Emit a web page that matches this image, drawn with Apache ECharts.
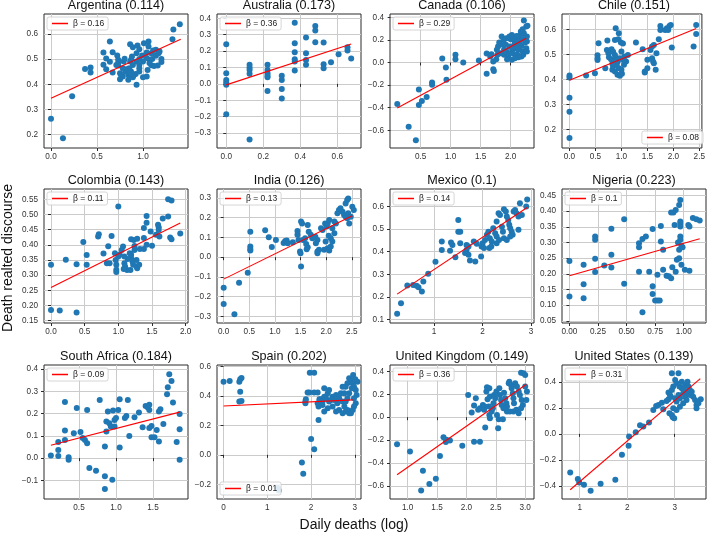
<!DOCTYPE html>
<html>
<head>
<meta charset="utf-8">
<script src="https://cdn.jsdelivr.net/npm/echarts@6.0.0/dist/echarts.min.js"></script>
<style>html,body{margin:0;padding:0;background:#fff}#chart{width:708px;height:534px}</style>
</head>
<body>
<div id="chart"></div>
<script>
// ---------------- DATA ----------------
const countries = ['Argentina','Australia','Canada','Chile','Colombia','India','Mexico','Nigeria','South Africa','Spain','United Kingdom','United States'];
const scores = ['0.114','0.173','0.106','0.151','0.143','0.126','0.1','0.223','0.184','0.202','0.149','0.139'];
const betas = ['0.16','0.36','0.29','0.08','0.11','0.13','0.14','0.1','0.09','0.01','0.36','0.31'];

const argentina = [[0,0.263],[0.13,0.186],[0.23,0.352],[0.37,0.461],[0.43,0.467],[0.43,0.447],[0.57,0.526],[0.57,0.478],[0.60,0.502],[0.60,0.460],[0.64,0.489],[0.64,0.570],[0.67,0.527],[0.67,0.447],[0.72,0.514],[0.73,0.497],[0.73,0.484],[0.73,0.475],[0.75,0.444],[0.75,0.420],[0.79,0.490],[0.80,0.501],[0.86,0.559],[0.89,0.547],[0.93,0.523],[0.94,0.554],[0.96,0.539],[0.99,0.514],[1.01,0.563],[1.04,0.526],[1.06,0.570],[1.06,0.550],[1.09,0.523],[1.11,0.534],[1.14,0.513],[1.17,0.523],[1.20,0.500],[1.20,0.488],[1.16,0.475],[1.09,0.476],[1.07,0.497],[1.05,0.457],[1.04,0.431],[1.00,0.428],[0.96,0.464],[0.93,0.490],[0.92,0.441],[0.90,0.437],[0.87,0.451],[0.85,0.464],[0.84,0.438],[0.82,0.460],[0.81,0.451],[0.78,0.464],[0.78,0.431],[0.76,0.438],[0.93,0.398],[0.96,0.477],[0.96,0.451],[0.89,0.477],[0.87,0.497],[0.86,0.490],[0.88,0.510],[0.96,0.500],[1.00,0.490],[1.04,0.504],[1.07,0.484],[1.10,0.500],[1.14,0.537],[1.18,0.530],[1.12,0.473],[1.32,0.579],[1.33,0.617],[1.40,0.638],[0.84,0.418],[0.89,0.428],[0.86,0.444],[0.71,0.477]];
const australia = [[0,0.241],[0,0.065],[0,0.024],[0,0.008],[0,-0.006],[0,-0.185],[0.126,0.116],[0.126,0.099],[0.126,0.085],[0.126,0.061],[0.126,-0.339],[0.223,0.116],[0.223,0.085],[0.223,0.065],[0.223,0.049],[0.223,0.041],[0.223,-0.043],[0.30,0.049],[0.30,0.024],[0.30,-0.032],[0.30,-0.089],[0.37,0.373],[0.37,0.247],[0.37,0.193],[0.37,0.150],[0.37,0.136],[0.37,0.081],[0.431,0.282],[0.431,0.187],[0.431,0.146],[0.431,0.116],[0.481,0.353],[0.481,0.325],[0.481,0.254],[0.526,0.252],[0.526,0.12],[0.526,0.095],[0.566,0.132],[0.607,0.181],[0.655,0.223],[0.655,0.203],[0.675,0.154]];
const canada = [[0.11,-0.368],[0.30,-0.568],[0.42,-0.688],[0.47,-0.238],[0.47,-0.376],[0.52,-0.341],[0.60,-0.306],[0.69,-0.176],[0.69,-0.197],[0.86,0.035],[0.92,-0.044],[0.93,-0.153],[1.08,0.068],[1.08,0.029],[1.21,0.0],[1.47,0.018],[1.60,0.079],[1.60,-0.1],[1.71,-0.059],[1.72,-0.074],[1.68,0.074],[1.66,0.053],[1.71,0.009],[1.77,0.112],[1.79,0.141],[1.85,0.229],[1.88,0.194],[1.89,0.112],[1.92,0.156],[1.93,0.097],[1.96,0.053],[1.98,0.141],[2.00,0.206],[2.02,0.244],[2.03,0.118],[2.04,0.082],[2.06,0.156],[2.07,0.185],[2.09,0.215],[2.10,0.126],[2.11,0.068],[2.13,0.112],[2.14,0.171],[2.16,0.244],[2.17,0.206],[2.18,0.147],[2.20,0.097],[2.21,0.068],[2.22,0.259],[2.22,0.371],[2.26,0.318],[2.27,0.229],[2.24,0.176],[2.26,0.126],[2.18,0.053],[2.13,0.047],[2.07,0.038],[2.02,0.024],[1.94,0.029],[1.89,0.068],[1.83,0.082],[1.78,0.068],[1.76,0.029],[1.81,0.176],[1.87,0.156],[1.93,0.215],[1.98,0.229],[2.04,0.224],[2.10,0.235],[2.17,0.274],[2.20,0.294],[2.24,0.215],[2.27,0.185],[2.02,0.135],[1.98,0.082],[2.13,0.185],[2.27,0.097],[2.28,0.324]];
const chile = [[0,0.415],[0,0.407],[0,0.326],[0,0.270],[0,0.165],[0.32,0.415],[0.49,0.424],[0.54,0.496],[0.54,0.484],[0.54,0.477],[0.56,0.544],[0.69,0.444],[0.73,0.555],[0.72,0.517],[0.75,0.504],[0.76,0.488],[0.81,0.52],[0.84,0.51],[0.875,0.497],[0.91,0.484],[0.93,0.471],[0.89,0.604],[0.95,0.584],[0.875,0.557],[0.94,0.560],[0.99,0.547],[1.03,0.543],[0.825,0.438],[0.875,0.431],[0.925,0.418],[0.97,0.414],[1.01,0.422],[0.84,0.451],[0.91,0.458],[0.95,0.444],[1.0,0.438],[1.06,0.491],[1.09,0.471],[1.05,0.458],[1.125,0.497],[1.0,0.511],[1.03,0.478],[0.97,0.484],[0.80,0.48],[0.825,0.462],[0.86,0.478],[1.28,0.547],[1.41,0.52],[1.45,0.431],[1.45,0.427],[1.5,0.478],[1.5,0.444],[1.56,0.517],[1.59,0.531],[1.625,0.537],[1.59,0.484],[1.61,0.471],[1.625,0.464],[1.66,0.438],[1.675,0.504],[1.72,0.56],[1.75,0.613],[1.75,0.597],[1.84,0.597],[1.875,0.604],[1.925,0.613],[1.95,0.617],[1.9,0.597],[1.97,0.527],[2.39,0.531],[2.44,0.617],[2.44,0.581]];
const colombia = [[0,0.334],[0,0.185],[0.13,0.183],[0.22,0.351],[0.38,0.336],[0.38,0.177],[0.48,0.409],[0.53,0.366],[0.53,0.334],[0.70,0.427],[0.71,0.435],[0.78,0.371],[0.85,0.395],[0.83,0.339],[0.87,0.339],[0.90,0.429],[0.95,0.372],[0.96,0.35],[0.97,0.334],[0.97,0.318],[0.97,0.31],[1.00,0.526],[1.0,0.361],[1.02,0.367],[1.05,0.383],[1.07,0.394],[1.09,0.339],[1.10,0.328],[1.13,0.317],[1.08,0.32],[1.18,0.317],[1.19,0.367],[1.19,0.356],[1.21,0.345],[1.22,0.334],[1.19,0.418],[1.23,0.416],[1.28,0.42],[1.24,0.383],[1.24,0.396],[1.27,0.35],[1.27,0.328],[1.28,0.323],[1.31,0.334],[1.32,0.386],[1.38,0.455],[1.38,0.422],[1.38,0.386],[1.42,0.473],[1.42,0.495],[1.42,0.40],[1.48,0.444],[1.50,0.397],[1.56,0.433],[1.59,0.466],[1.60,0.458],[1.60,0.449],[1.61,0.427],[1.66,0.487],[1.74,0.493],[1.74,0.55],[1.79,0.546],[1.77,0.424],[1.79,0.418],[1.92,0.437],[1.14,0.353],[1.17,0.372],[1.09,0.361]];
const india = [[0,-0.155],[0,-0.237],[0.21,-0.289],[0.30,-0.129],[0.47,-0.079],[0.52,0.129],[0.52,0.054],[0.52,0.042],[0.52,0.034],[0.81,0.136],[0.88,0.101],[0.94,0.052],[1.02,0.087],[1.17,0.072],[1.20,0.082],[1.23,0.084],[1.25,0.071],[1.35,0.076],[1.44,0.133],[1.44,0.113],[1.46,0.087],[1.51,0.18],[1.53,0.171],[1.49,0.029],[1.50,0.02],[1.51,-0.047],[1.55,0.087],[1.59,0.096],[1.61,0.067],[1.64,0.05],[1.62,0.04],[1.64,0.163],[1.66,0.129],[1.70,0.113],[1.73,0.096],[1.79,0.104],[1.83,0.087],[1.80,0.071],[1.83,0.029],[1.86,0.037],[1.83,0.02],[1.90,0.146],[1.93,0.138],[1.98,0.171],[2.01,0.155],[2.03,0.171],[2.06,0.188],[1.96,0.037],[1.99,0.079],[2.03,0.045],[2.06,0.034],[2.09,0.054],[2.05,0.108],[2.09,0.096],[2.12,0.079],[2.16,0.121],[2.12,0.146],[2.16,0.18],[2.19,0.171],[2.22,0.222],[2.25,0.239],[2.28,0.247],[2.32,0.23],[2.35,0.213],[2.38,0.205],[2.41,0.197],[2.43,0.222],[2.38,0.272],[2.41,0.289],[2.43,0.297],[2.45,0.171],[2.48,0.205],[2.51,0.255],[2.54,0.239]];
const mexico = [[0.24,0.125],[0.32,0.172],[0.45,0.25],[0.57,0.253],[0.64,0.249],[0.68,0.243],[0.75,0.224],[0.78,0.268],[0.88,0.302],[1.03,0.355],[1.16,0.445],[1.16,0.408],[1.33,0.404],[1.35,0.441],[1.38,0.43],[1.44,0.376],[1.50,0.541],[1.50,0.489],[1.54,0.489],[1.54,0.438],[1.64,0.394],[1.67,0.408],[1.71,0.386],[1.74,0.361],[1.67,0.43],[1.71,0.423],[1.85,0.357],[1.82,0.445],[1.88,0.435],[1.97,0.379],[1.98,0.423],[2.0,0.438],[2.03,0.416],[2.05,0.452],[2.09,0.475],[2.12,0.489],[2.15,0.46],[2.19,0.445],[2.14,0.416],[2.18,0.423],[2.22,0.504],[2.26,0.482],[2.29,0.467],[2.29,0.534],[2.33,0.571],[2.36,0.563],[2.40,0.511],[2.42,0.489],[2.44,0.46],[2.44,0.588],[2.48,0.578],[2.50,0.556],[2.53,0.541],[2.55,0.519],[2.57,0.504],[2.60,0.489],[2.62,0.475],[2.64,0.578],[2.67,0.585],[2.70,0.571],[2.74,0.556],[2.57,0.467],[2.50,0.452],[2.29,0.438],[2.34,0.452],[2.74,0.497],[2.77,0.615],[2.90,0.6],[2.92,0.632],[2.81,0.563]];
const nigeria = [[0,0.241],[0,0.128],[0.124,0.229],[0.124,0.167],[0.124,0.122],[0.225,0.319],[0.225,0.309],[0.225,0.248],[0.225,0.206],[0.305,0.227],[0.367,0.344],[0.367,0.261],[0.367,0.22],[0.479,0.374],[0.479,0.168],[0.609,0.298],[0.609,0.285],[0.609,0.207],[0.639,0.311],[0.669,0.319],[0.639,0.077],[0.698,0.207],[0.728,0.343],[0.728,0.16],[0.728,0.136],[0.75,0.115],[0.77,0.115],[0.79,0.115],[0.77,0.197],[0.80,0.353],[0.80,0.303],[0.82,0.277],[0.82,0.213],[0.85,0.194],[0.87,0.192],[0.89,0.186],[0.89,0.396],[0.91,0.396],[0.93,0.404],[0.90,0.221],[0.92,0.356],[0.93,0.207],[0.94,0.245],[0.95,0.30],[0.96,0.42],[0.97,0.436],[0.97,0.367],[0.97,0.36],[0.97,0.351],[0.97,0.319],[0.97,0.309],[0.98,0.289],[0.96,0.277],[0.96,0.25],[0.98,0.229],[0.99,0.285],[1.01,0.213],[1.04,0.356],[1.05,0.351],[1.05,0.21],[1.08,0.378],[1.11,0.374],[1.14,0.37]];
const southAfrica = [[0.12,0.012],[0.22,0.037],[0.22,0.072],[0.22,0.010],[0.31,0.253],[0.31,0.124],[0.31,0.082],[0.36,0.004],[0.36,-0.007],[0.43,0.112],[0.47,0.225],[0.52,0.117],[0.55,0.09],[0.58,0.082],[0.61,0.067],[0.61,0.217],[0.64,-0.045],[0.73,-0.057],[0.78,0.262],[0.85,0.052],[0.85,-0.082],[0.85,-0.139],[0.87,0.165],[0.87,0.12],[0.89,0.21],[0.91,0.157],[0.93,0.142],[0.95,-0.097],[0.96,0.214],[0.98,0.172],[0.98,0.142],[1.0,0.18],[1.03,0.217],[1.05,0.265],[1.05,0.048],[1.12,0.18],[1.14,0.19],[1.16,0.262],[1.18,0.10],[1.25,0.184],[1.31,0.205],[1.36,0.139],[1.40,0.235],[1.43,0.228],[1.45,0.217],[1.45,0.24],[1.45,0.135],[1.48,0.145],[1.48,0.094],[1.52,0.094],[1.55,0.127],[1.58,0.075],[1.58,0.21],[1.60,0.22],[1.64,0.154],[1.69,0.287],[1.70,0.319],[1.72,0.377],[1.75,0.347],[1.77,0.25],[1.82,0.072],[1.86,0.199],[1.86,0.13],[1.86,-0.007]];
const spain = [[0,0.497],[0.14,0.502],[0.36,0.497],[0.38,0.513],[0.41,0.522],[0.38,0.429],[0.36,0.362],[0.41,0.366],[1.24,-0.226],[1.26,-0.242],[1.79,-0.052],[1.82,-0.129],[1.87,0.362],[1.87,0.35],[1.88,0.377],[1.92,0.423],[1.97,0.558],[2.07,0.558],[1.96,0.423],[2.07,0.423],[2.0,0.108],[2.07,0.038],[2.15,0.423],[2.17,0.237],[2.15,0.35],[2.17,0.328],[2.19,0.377],[2.22,0.377],[2.26,0.362],[2.30,0.395],[2.34,0.384],[2.38,0.418],[2.41,0.362],[2.45,0.373],[2.49,0.395],[2.53,0.373],[2.57,0.407],[2.60,0.35],[2.64,0.384],[2.68,0.418],[2.72,0.362],[2.76,0.328],[2.79,0.294],[2.83,0.305],[2.87,0.282],[2.91,0.282],[2.95,0.305],[2.79,0.463],[2.83,0.486],[2.87,0.52],[2.91,0.508],[2.95,0.486],[2.98,0.463],[3.02,0.441],[3.04,0.407],[2.98,0.384],[2.87,0.418],[2.83,0.384],[2.79,0.362],[2.76,0.418],[2.72,0.463],[2.96,0.542],[3.01,0.513],[3.06,0.497],[2.93,0.452],[3.02,0.35],[2.98,0.328],[2.30,0.294],[2.38,0.316],[2.26,0.339],[2.49,0.328],[2.57,0.294],[2.64,0.305],[2.72,0.282],[2.30,0.452],[2.41,0.441]];
const unitedKingdom = [[0.82,-0.235],[1.04,-0.299],[1.23,-0.638],[1.26,-0.467],[1.37,-0.583],[1.48,-0.536],[1.55,-0.339],[1.61,-0.174],[1.65,-0.217],[1.66,-0.197],[1.72,-0.203],[1.93,-0.249],[2.03,0.194],[2.09,0.041],[2.13,0.101],[2.13,-0.214],[2.23,-0.214],[2.16,0.165],[2.20,0.064],[2.23,0.078],[2.28,0.107],[2.31,0.093],[2.30,0.064],[2.34,0.223],[2.35,0.261],[2.32,-0.09],[2.36,0.157],[2.39,0.252],[2.40,0.18],[2.38,0.093],[2.39,0.02],[2.40,-0.009],[2.43,0.049],[2.45,0.078],[2.46,0.122],[2.47,0.194],[2.49,0.165],[2.51,0.223],[2.52,0.02],[2.55,-0.017],[2.54,-0.096],[2.56,0.252],[2.57,0.194],[2.59,0.151],[2.60,0.107],[2.62,-0.017],[2.64,0.214],[2.66,0.165],[2.68,0.122],[2.69,0.049],[2.72,0.296],[2.73,0.31],[2.76,0.281],[2.77,0.252],[2.79,0.209],[2.80,0.165],[2.81,0.122],[2.74,0.049],[2.80,0.049],[2.85,0.064],[2.89,0.035],[2.83,0.296],[2.86,0.267],[2.89,0.223],[2.91,0.194],[2.93,0.388],[2.97,0.383],[3.0,0.368],[2.94,0.151],[2.96,0.107],[2.93,0.078],[3.0,0.267],[3.02,0.151],[3.03,0.223],[2.69,0.093],[2.63,0.078]];
const unitedStates = [[0.80,-0.296],[0.96,-0.347],[0.99,-0.373],[1.09,-0.391],[1.23,-0.437],[1.44,-0.383],[1.75,-0.352],[1.89,-0.161],[2.03,-0.092],[2.04,-0.02],[2.18,0.013],[2.27,0.066],[2.34,0.056],[2.46,0.087],[2.55,0.184],[2.61,0.215],[2.66,0.222],[2.73,0.24],[2.76,0.189],[2.83,0.253],[2.87,0.266],[2.92,0.286],[2.89,0.158],[2.94,0.146],[2.96,0.128],[2.99,0.12],[2.87,0.317],[2.90,0.299],[2.94,0.337],[2.97,0.363],[2.94,0.465],[3.08,0.465],[3.01,0.414],[3.04,0.388],[3.10,0.363],[3.15,0.35],[3.04,0.248],[3.11,0.273],[3.18,0.312],[3.22,0.286],[3.18,0.235],[3.25,0.26],[3.32,0.299],[3.36,0.324],[3.15,0.401],[3.22,0.375],[3.29,0.363],[3.32,0.337],[3.11,0.209],[3.01,0.273],[3.08,0.299],[3.39,0.286],[3.43,0.26],[3.46,0.222],[3.46,0.197],[3.55,0.266],[3.50,0.235],[2.97,0.197],[3.04,0.184],[3.25,0.324],[3.18,0.35],[3.27,0.40]];
const pointSets = [argentina, australia, canada, chile, colombia, india, mexico, nigeria, southAfrica, spain, unitedKingdom, unitedStates];

// fitted regression lines: start and end points
const fitX = [[0,1.41],[0,0.675],[0.11,2.26],[0,2.44],[0,1.92],[0,2.51],[0.24,2.92],[0,1.14],[0.12,1.86],[0,2.95],[0.82,3.02],[0.80,3.54]];
const fitY = [[0.345,0.579],[-0.006,0.243],[-0.403,0.215],[0.396,0.603],[0.259,0.472],[-0.111,0.21],[0.212,0.596],[0.194,0.312],[0.058,0.207],[0.332,0.373],[-0.501,0.287],[-0.429,0.424]];

// axis extents
const xRanges = [[-0.076,1.489],[-0.05,0.728],[-0.011,2.389],[-0.144,2.55],[-0.104,2.035],[-0.13,2.68],[0.093,3.06],[-0.065,1.195],[0.027,1.973],[-0.15,3.14],[0.70,3.15],[0.627,3.66]];
const yRanges = [[0.147,0.679],[-0.391,0.426],[-0.756,0.429],[0.125,0.661],[0.142,0.584],[-0.333,0.345],[0.084,0.678],[0.043,0.471],[-0.184,0.419],[-0.30,0.61],[-0.713,0.455],[-0.50,0.529]];

// tick labels
const xTickLabels = [
  ['0.0','0.5','1.0'],
  ['0.0','0.2','0.4','0.6'],
  ['0.5','1.0','1.5','2.0'],
  ['0.0','0.5','1.0','1.5','2.0','2.5'],
  ['0.0','0.5','1.0','1.5','2.0'],
  ['0.0','0.5','1.0','1.5','2.0','2.5'],
  ['1','2','3'],
  ['0.00','0.25','0.50','0.75','1.00'],
  ['0.5','1.0','1.5'],
  ['0','1','2','3'],
  ['1.0','1.5','2.0','2.5','3.0'],
  ['1','2','3']
];
const yTickLabels = [
  ['0.2','0.3','0.4','0.5','0.6'],
  ['\u22120.3','\u22120.2','\u22120.1','0.0','0.1','0.2','0.3','0.4'],
  ['\u22120.6','\u22120.4','\u22120.2','0.0','0.2','0.4'],
  ['0.2','0.3','0.4','0.5','0.6'],
  ['0.15','0.20','0.25','0.30','0.35','0.40','0.45','0.50','0.55'],
  ['\u22120.3','\u22120.2','\u22120.1','0.0','0.1','0.2','0.3'],
  ['0.1','0.2','0.3','0.4','0.5','0.6'],
  ['0.05','0.10','0.15','0.20','0.25','0.30','0.35','0.40','0.45'],
  ['\u22120.1','0.0','0.1','0.2','0.3','0.4'],
  ['\u22120.2','0.0','0.2','0.4','0.6'],
  ['\u22120.6','\u22120.4','\u22120.2','0.0','0.2','0.4'],
  ['\u22120.4','\u22120.2','0.0','0.2','0.4']
];
const xAxisTitle = 'Daily deaths (log)';
const yAxisTitle = 'Death realted discourse';

// ---------------- LAYOUT ----------------
const colLeft = [44, 217, 390, 562];
const rowTop = [14, 189, 365];
const W = 144, H = 134;
const legendCorner = ['ul','ul','ul','lr','ul','ul','ul','ul','ul','ll','ul','ul'];
const FONT = 'Liberation Sans';
const toNum = s => parseFloat(s.replace('\u2212', '-'));

const grid = [], xAxis = [], yAxis = [], series = [], title = [], legend = [];
countries.forEach((name, i) => {
  const gx = colLeft[i % 4], gy = rowTop[Math.floor(i / 4)];
  grid.push({left: gx, top: gy, width: W, height: H, show: true,
    borderColor: '#2b2b2b', borderWidth: 1, backgroundColor: '#fff'});
  const mkAxis = (labels, range, isX) => {
    const vals = labels.map(toNum);
    return {
      type: 'value', gridIndex: i, min: range[0], max: range[1],
      axisLine: {show: false},
      axisTick: {show: true, customValues: vals, length: 3, lineStyle: {color: '#2b2b2b', width: 1}},
      axisLabel: {customValues: vals, fontSize: 8.2, fontFamily: FONT, color: '#333',
        margin: isX ? 5 : 6,
        formatter: v => { for (const s of labels) if (Math.abs(toNum(s) - v) < 1e-9) return s; return ''; }},
      splitLine: {show: true, lineStyle: {color: '#cbcbcb', width: 1}}
    };
  };
  xAxis.push(mkAxis(xTickLabels[i], xRanges[i], true));
  yAxis.push(mkAxis(yTickLabels[i], yRanges[i], false));
  series.push({type: 'scatter', xAxisIndex: i, yAxisIndex: i, data: pointSets[i],
    symbolSize: 6, itemStyle: {color: '#1f77b4', opacity: 1}, silent: true, z: 2});
  const lname = '\u03b2 = ' + betas[i];
  series.push({type: 'line', name: lname, xAxisIndex: i, yAxisIndex: i,
    data: [[fitX[i][0], fitY[i][0]], [fitX[i][1], fitY[i][1]]],
    symbol: 'none', lineStyle: {color: '#ff0000', width: 1.1}, itemStyle: {color: '#ff0000'},
    silent: true, z: 3, animation: false});
  title.push({text: name + ' (' + scores[i] + ')', left: gx + W / 2, top: gy - 15,
    textAlign: 'center', padding: 0,
    textStyle: {fontSize: 12.6, fontWeight: 'normal', fontFamily: FONT, color: '#111', lineHeight: 13}});
  const lg = {data: [{name: lname, icon: 'rect'}], itemWidth: 16, itemHeight: 1.5, itemGap: 0,
    padding: [2, 4, 2, 5], backgroundColor: 'rgba(255,255,255,0.85)', borderColor: '#cccccc',
    borderWidth: 0.8, borderRadius: 2, selectedMode: false, orient: 'horizontal',
    textStyle: {fontSize: 8.5, fontFamily: FONT, color: '#222', padding: [0, 0, 0, 0]}};
  if (legendCorner[i] === 'ul') { lg.left = gx + 3; lg.top = gy + 3; }
  else if (legendCorner[i] === 'lr') { lg.right = 708 - (gx + W) + 3; lg.bottom = 534 - (gy + H) + 4; }
  else { lg.left = gx + 3; lg.bottom = 534 - (gy + H) + 4; }
  legend.push(lg);
});

const chart = echarts.init(document.getElementById('chart'), null, {renderer: 'canvas'});
chart.setOption({
  animation: false,
  backgroundColor: '#fff',
  grid, xAxis, yAxis, series, title, legend,
  graphic: [
    {type: 'text', left: 'center', x: 0, style: {text: xAxisTitle, font: '14px ' + FONT, fill: '#111',
      x: 364, y: 525, textAlign: 'center', textVerticalAlign: 'middle'}},
    {type: 'text', x: 8, y: 258, rotation: Math.PI / 2,
      style: {text: yAxisTitle, font: '14px ' + FONT, fill: '#111', x: 0, y: 0, textAlign: 'center', textVerticalAlign: 'middle'}}
  ]
});
</script>
</body>
</html>
